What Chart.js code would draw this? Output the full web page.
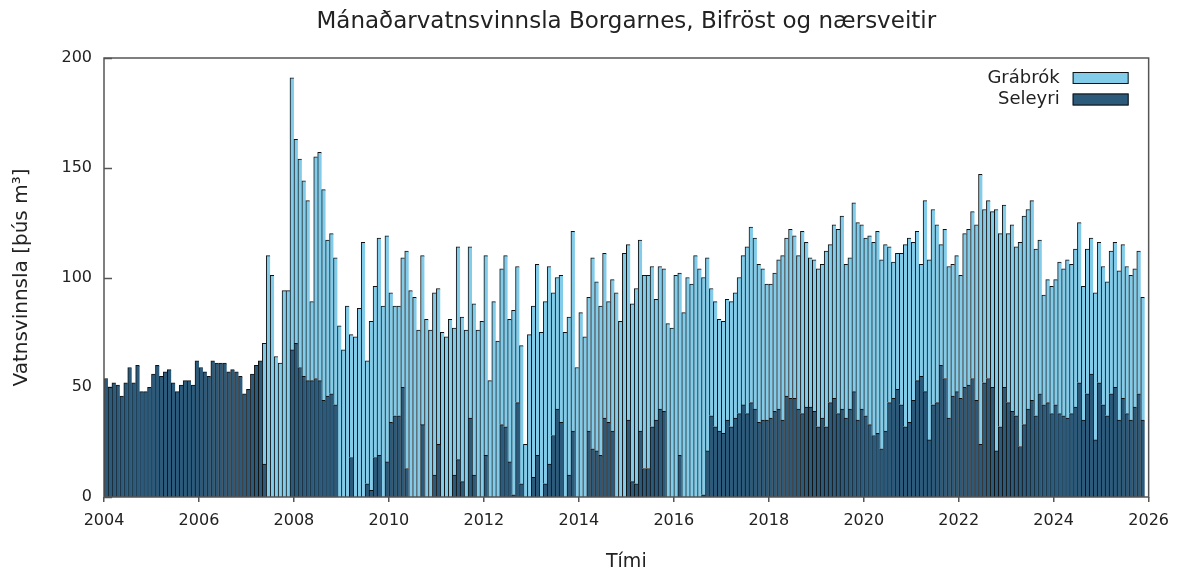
<!DOCTYPE html>
<html>
<head>
<meta charset="utf-8">
<title>Mánaðarvatnsvinnsla</title>
<script src="https://cdn.jsdelivr.net/npm/chart.js@4.4.1/dist/chart.umd.min.js"></script>
<style>
  html, body { margin: 0; padding: 0; background: #fff; }
  #wrap { width: 1178px; height: 572px; }
</style>
</head>
<body>
<div id="wrap"><canvas id="chart"></canvas></div>
<script>
// monthly bars, Jan 2004 onwards
const FIRST_YEAR = 2004;
const xTicks = [2004, 2006, 2008, 2010, 2012, 2014, 2016, 2018, 2020, 2022, 2024, 2026];
const yTicks = [0, 50, 100, 150, 200];

// thousand m3 per month (one row per year)
const seleyri = [
  54, 50, 52, 51, 46, 52, 59, 52, 60, 48, 48, 50,
  56, 60, 55, 57, 58, 52, 48, 51, 53, 53, 51, 62,
  59, 57, 55, 62, 61, 61, 61, 57, 58, 57, 55, 47,
  49, 56, 60, 62, 15, 0, 0, 0, 0, 0, 0, 67,
  70, 59, 55, 53, 53, 54, 53, 44, 46, 47, 42, 0,
  0, 0, 18, 0, 0, 0, 6, 3, 18, 19, 0, 16,
  34, 37, 37, 50, 13, 0, 0, 0, 33, 0, 0, 10,
  24, 0, 0, 0, 10, 17, 7, 0, 36, 10, 0, 0,
  19, 0, 0, 0, 33, 32, 16, 1, 43, 6, 0, 0,
  9, 19, 0, 6, 15, 28, 40, 34, 0, 10, 30, 0,
  0, 0, 30, 22, 21, 19, 36, 34, 30, 0, 0, 0,
  35, 7, 6, 30, 13, 13, 32, 35, 40, 39, 0, 0,
  0, 19, 0, 0, 0, 0, 0, 1, 21, 37, 32, 30,
  29, 35, 32, 36, 38, 42, 38, 43, 40, 34, 35, 35,
  36, 39, 40, 35, 46, 45, 45, 40, 38, 41, 41, 39,
  32, 36, 32, 43, 45, 38, 40, 36, 40, 48, 35, 40,
  37, 33, 28, 29, 22, 30, 43, 45, 49, 42, 32, 34,
  44, 53, 55, 48, 26, 42, 43, 60, 54, 36, 46, 48,
  45, 50, 51, 54, 44, 24, 52, 54, 50, 21, 32, 50,
  43, 39, 37, 23, 33, 40, 44, 37, 47, 42, 43, 38,
  42, 38, 37, 36, 38, 41, 52, 35, 47, 56, 26, 52,
  42, 37, 47, 50, 35, 45, 38, 35, 41, 47, 35,
];

const grabrok = [
  0, 0, 0, 0, 0, 0, 0, 0, 0, 0, 0, 0,
  0, 0, 0, 0, 0, 0, 0, 0, 0, 0, 0, 0,
  0, 0, 0, 0, 0, 0, 0, 0, 0, 0, 0, 0,
  0, 0, 0, 0, 55, 110, 101, 64, 61, 94, 94, 124,
  93, 95, 89, 82, 36, 101, 104, 96, 71, 73, 67, 78,
  67, 87, 56, 73, 86, 116, 56, 77, 78, 99, 87, 103,
  59, 50, 50, 59, 99, 94, 91, 76, 77, 81, 76, 83,
  71, 75, 73, 81, 67, 97, 75, 76, 78, 78, 76, 80,
  91, 53, 89, 71, 71, 78, 65, 84, 62, 63, 24, 74,
  78, 87, 75, 83, 90, 65, 60, 67, 75, 72, 91, 59,
  84, 73, 61, 87, 77, 68, 75, 55, 69, 93, 80, 111,
  80, 81, 89, 87, 88, 88, 73, 55, 65, 65, 79, 77,
  101, 83, 84, 100, 97, 110, 104, 99, 88, 58, 57, 51,
  51, 55, 57, 57, 62, 68, 76, 80, 78, 72, 69, 62,
  61, 63, 68, 75, 72, 77, 74, 70, 83, 75, 68, 69,
  72, 70, 80, 72, 79, 84, 88, 70, 69, 86, 90, 84,
  81, 86, 88, 92, 86, 85, 71, 62, 62, 69, 83, 84,
  72, 68, 51, 87, 82, 89, 81, 55, 68, 69, 60, 62,
  56, 70, 71, 76, 80, 123, 79, 81, 80, 110, 88, 83,
  77, 85, 77, 93, 95, 91, 91, 76, 70, 50, 56, 58,
  57, 69, 67, 72, 68, 72, 73, 61, 66, 62, 67, 64,
  63, 61, 65, 66, 68, 70, 67, 66, 63, 65, 56,
];

const LIGHT = '#82cbe9';
const DARK = '#2c5a7b';
const EDGE = '#111';
const AXIS = '#555';
const TEXT = '#222';

// each month sits in the middle of its slot on a time-in-years axis
function monthPosition(index) {
  return FIRST_YEAR + (index + 0.5) / 12;
}

function toPoints(values) {
  return values.map((value, index) => ({ x: monthPosition(index), y: value }));
}

Chart.defaults.font.family = '"DejaVu Sans", sans-serif';
Chart.defaults.color = TEXT;

const innerTicks = {
  id: 'innerTicks',
  beforeDatasetsDraw(chart) {
    const { ctx, chartArea: area, scales: { y } } = chart;
    ctx.save();
    ctx.strokeStyle = AXIS;
    ctx.lineWidth = 1.5;
    yTicks.forEach((value) => {
      const py = Math.round(y.getPixelForValue(value)) + 0.5;
      ctx.beginPath();
      ctx.moveTo(area.left, py);
      ctx.lineTo(area.left + 8, py);
      ctx.stroke();
    });
    ctx.restore();
  },
};

const frame = {
  id: 'frame',
  afterDatasetsDraw(chart) {
    const { ctx, chartArea: area } = chart;
    ctx.save();
    ctx.strokeStyle = AXIS;
    ctx.lineWidth = 1.5;
    ctx.strokeRect(area.left, area.top, area.right - area.left, area.bottom - area.top);
    ctx.restore();
  },
};

// gnuplot style key: text on the left, swatch on the right
const keyBox = {
  id: 'keyBox',
  afterDraw(chart) {
    const { ctx, chartArea: area } = chart;
    const items = chart.data.datasets.slice().reverse();
    ctx.save();
    ctx.font = '18px "DejaVu Sans"';
    ctx.textAlign = 'right';
    ctx.textBaseline = 'middle';
    ctx.lineWidth = 1;
    items.forEach((dataset, i) => {
      const cy = area.top + 20 + i * 21.5;
      ctx.fillStyle = TEXT;
      ctx.fillText(dataset.label, area.right - 89, cy);
      ctx.fillStyle = dataset.backgroundColor;
      ctx.fillRect(area.right - 76, cy - 6, 56, 12);
      ctx.strokeStyle = EDGE;
      ctx.strokeRect(area.right - 75.5, cy - 5.5, 55, 11);
    });
    ctx.restore();
  },
};

const barStyle = {
  barPercentage: 1,
  categoryPercentage: 1,
  borderColor: EDGE,
  borderWidth: { top: 1, left: 1, right: 0, bottom: 0 },
};

new Chart(document.getElementById('chart'), {
  type: 'bar',
  data: {
    datasets: [
      { label: 'Seleyri', data: toPoints(seleyri), backgroundColor: DARK, ...barStyle },
      { label: 'Grábrók', data: toPoints(grabrok), backgroundColor: LIGHT, ...barStyle },
    ],
  },
  options: {
    responsive: true,
    maintainAspectRatio: false,
    animation: false,
    layout: { padding: { left: 0, right: 29, top: 0, bottom: 0 } },
    plugins: {
      legend: { display: false },
      tooltip: { enabled: false },
      title: {
        display: true,
        fullSize: false,
        text: 'Mánaðarvatnsvinnsla Borgarnes, Bifröst og nærsveitir',
        color: TEXT,
        font: { size: 23, weight: 'normal', lineHeight: 1.2 },
        padding: { top: 8, bottom: 22.4 },
      },
    },
    scales: {
      x: {
        type: 'linear',
        stacked: true,
        offset: false,
        min: 2004,
        max: 2026,
        afterBuildTicks: (scale) => {
          scale.ticks = xTicks.map((value) => ({ value }));
        },
        afterFit: (scale) => { scale.height = 75; },
        grid: { offset: false, drawOnChartArea: false, drawTicks: true, tickLength: 5, color: AXIS, lineWidth: 1.5 },
        border: { display: false },
        ticks: {
          font: { size: 16 },
          padding: 9,
          maxRotation: 0,
          autoSkip: false,
          callback: (value) => String(value),
        },
        title: {
          display: true,
          text: 'Tími',
          font: { size: 19, lineHeight: 1 },
          padding: { top: 0, bottom: 0 },
        },
      },
      y: {
        stacked: true,
        min: 0,
        max: 200,
        afterBuildTicks: (scale) => {
          scale.ticks = yTicks.map((value) => ({ value }));
        },
        afterFit: (scale) => { scale.width = 104; },
        grid: { display: false, drawTicks: false },
        border: { display: false },
        ticks: { font: { size: 16 }, padding: 12 },
        title: {
          display: true,
          text: 'Vatnsvinnsla [þús m³]',
          font: { size: 20, lineHeight: 1 },
          padding: { top: 12, bottom: 0 },
        },
      },
    },
  },
  plugins: [innerTicks, frame, keyBox],
});
</script>
</body>
</html>
